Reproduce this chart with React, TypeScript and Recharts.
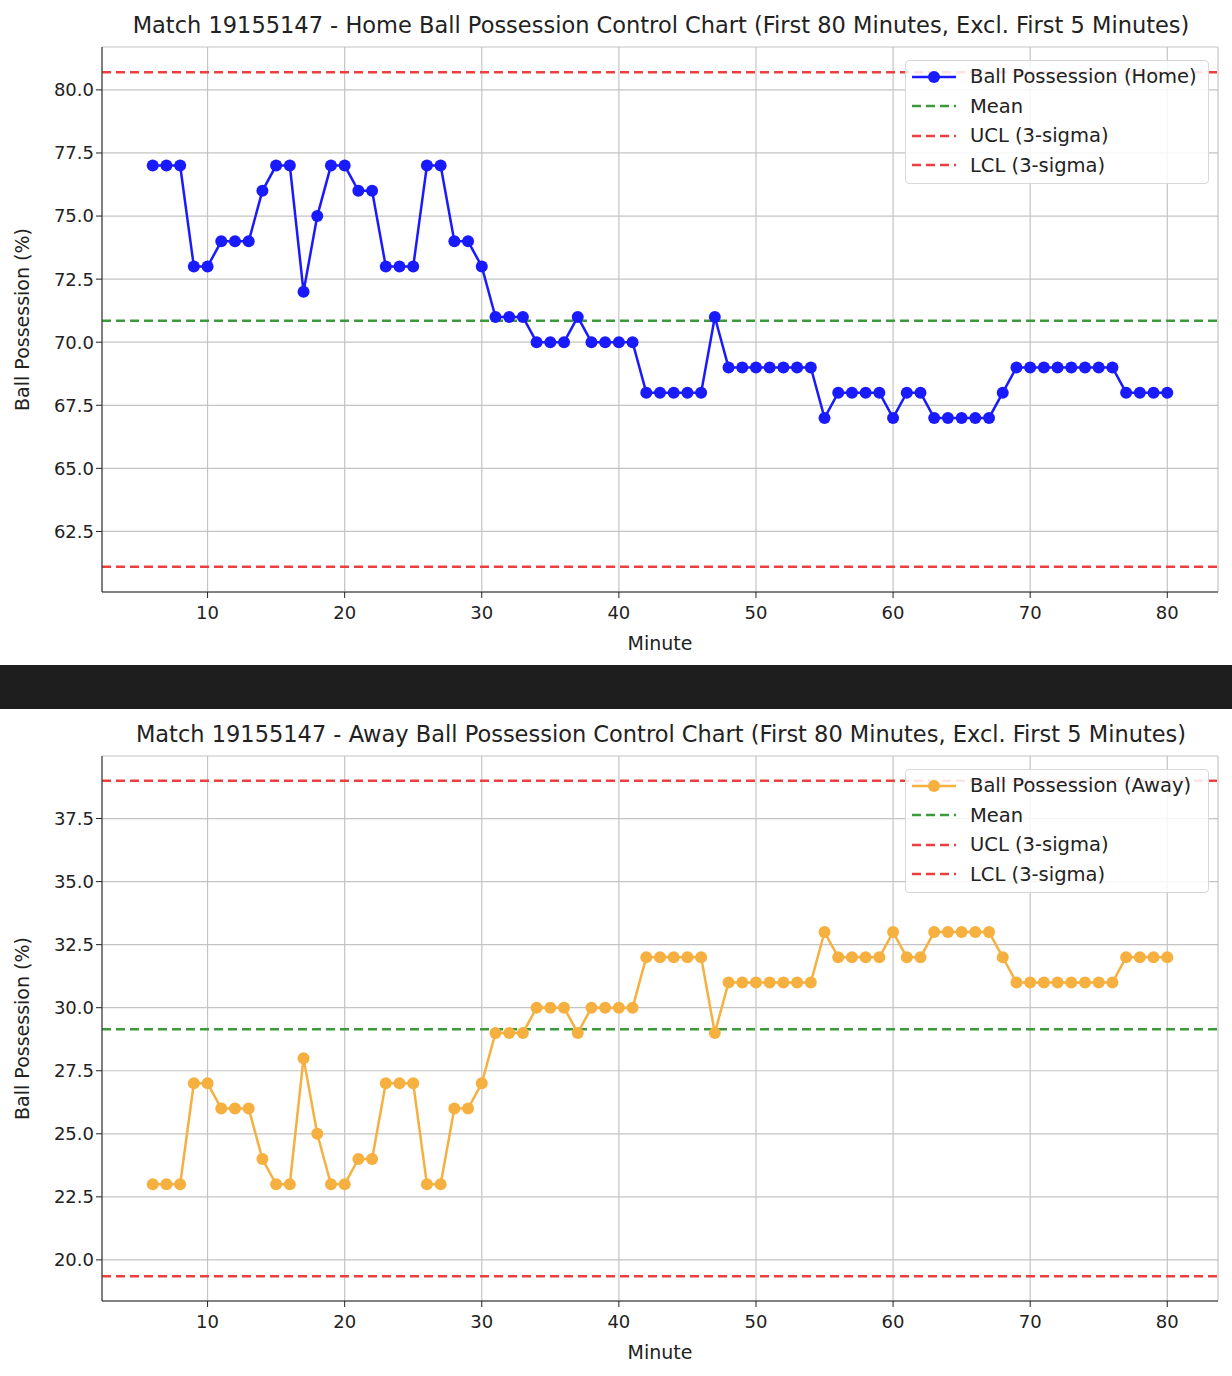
import * as React from "react";
import {
  CartesianGrid,
  Line,
  LineChart,
  ReferenceLine,
  XAxis,
  YAxis,
} from "recharts";

const MINUTES = [
  6, 7, 8, 9, 10, 11, 12, 13, 14, 15, 16, 17, 18, 19, 20, 21, 22, 23, 24, 25,
  26, 27, 28, 29, 30, 31, 32, 33, 34, 35, 36, 37, 38, 39, 40, 41, 42, 43, 44,
  45, 46, 47, 48, 49, 50, 51, 52, 53, 54, 55, 56, 57, 58, 59, 60, 61, 62, 63,
  64, 65, 66, 67, 68, 69, 70, 71, 72, 73, 74, 75, 76, 77, 78, 79, 80,
];

const HOME = [
  77, 77, 77, 73, 73, 74, 74, 74, 76, 77, 77, 72, 75, 77, 77, 76, 76, 73, 73,
  73, 77, 77, 74, 74, 73, 71, 71, 71, 70, 70, 70, 71, 70, 70, 70, 70, 68, 68,
  68, 68, 68, 71, 69, 69, 69, 69, 69, 69, 69, 67, 68, 68, 68, 68, 67, 68, 68,
  67, 67, 67, 67, 67, 68, 69, 69, 69, 69, 69, 69, 69, 69, 68, 68, 68, 68,
];

const AWAY = [
  23, 23, 23, 27, 27, 26, 26, 26, 24, 23, 23, 28, 25, 23, 23, 24, 24, 27, 27,
  27, 23, 23, 26, 26, 27, 29, 29, 29, 30, 30, 30, 29, 30, 30, 30, 30, 32, 32,
  32, 32, 32, 29, 31, 31, 31, 31, 31, 31, 31, 33, 32, 32, 32, 32, 33, 32, 32,
  33, 33, 33, 33, 33, 32, 31, 31, 31, 31, 31, 31, 31, 31, 32, 32, 32, 32,
];

const X_TICKS = [10, 20, 30, 40, 50, 60, 70, 80];
const HOME_TICKS = [62.5, 65, 67.5, 70, 72.5, 75, 77.5, 80];
const AWAY_TICKS = [20, 22.5, 25, 27.5, 30, 32.5, 35, 37.5];

const HOME_LIMITS = { mean: 70.85, ucl: 80.7, lcl: 61.1 };
const AWAY_LIMITS = { mean: 29.15, ucl: 39.0, lcl: 19.35 };

const FONT = "DejaVu Sans, sans-serif";
const RED = "#ec4040";
const GREEN = "#3c9a3c";

function ControlChart({
  title,
  values,
  name,
  color,
  ticks,
  domain,
  limits,
}: {
  title: string;
  values: number[];
  name: string;
  color: string;
  ticks: number[];
  domain: [number, number];
  limits: { mean: number; ucl: number; lcl: number };
}) {
  const rows = MINUTES.map((m, i) => ({ minute: m, v: values[i] }));
  const legend = [
    { label: name, color, dot: true },
    { label: "Mean", color: GREEN },
    { label: "UCL (3-sigma)", color: RED },
    { label: "LCL (3-sigma)", color: RED },
  ];
  return (
    <div style={{ position: "relative", width: 1232, height: 665, background: "#fff" }}>
      <div
        style={{
          position: "absolute",
          top: 12,
          left: 96,
          width: 1130,
          textAlign: "center",
          fontSize: 22.5,
          fontFamily: FONT,
          color: "#222",
          whiteSpace: "nowrap",
        }}
      >
        {title}
      </div>
      <LineChart
        width={1232}
        height={665}
        data={rows}
        margin={{ top: 47, right: 14, left: 42, bottom: 43 }}
        style={{ fontFamily: FONT }}
      >
        <CartesianGrid stroke="#c4c4c4" strokeWidth={1.2} />
        <XAxis
          dataKey="minute"
          type="number"
          domain={[2.3, 83.7]}
          ticks={X_TICKS}
          allowDataOverflow
          height={30}
          tickMargin={8}
          stroke="#222"
          tick={{ fontSize: 18, fill: "#222" }}
          label={{ value: "Minute", position: "insideBottom", offset: -28, fontSize: 19, fill: "#222" }}
        />
        <YAxis
          type="number"
          domain={domain}
          ticks={ticks}
          allowDataOverflow
          width={60}
          stroke="#222"
          tickFormatter={(v) => Number(v).toFixed(1)}
          tick={{ fontSize: 18, fill: "#222" }}
          label={{
            value: "Ball Possession (%)",
            angle: -90,
            position: "insideLeft",
            offset: -20,
            fontSize: 19,
            fill: "#222",
            style: { textAnchor: "middle" },
          }}
        />
        <ReferenceLine y={limits.mean} stroke={GREEN} strokeWidth={2.5} strokeDasharray="9 5" />
        <ReferenceLine y={limits.ucl} stroke={RED} strokeWidth={2.5} strokeDasharray="9 5" />
        <ReferenceLine y={limits.lcl} stroke={RED} strokeWidth={2.5} strokeDasharray="9 5" />
        <Line
          dataKey="v"
          stroke={color}
          strokeWidth={2.5}
          dot={{ r: 6, fill: color, stroke: color, strokeWidth: 0 }}
          isAnimationActive={false}
        />
      </LineChart>
      <div
        style={{
          position: "absolute",
          left: 905,
          top: 60,
          width: 304,
          height: 124,
          border: "1px solid #d8d8d8",
          borderRadius: 4,
          background: "rgba(255,255,255,0.85)",
          fontFamily: FONT,
          fontSize: 19.5,
          color: "#222",
          boxSizing: "border-box",
          paddingTop: 1,
        }}
      >
        {legend.map((e) => (
          <div key={e.label} style={{ display: "flex", alignItems: "center", height: 29.5 }}>
            <svg width={62} height={20} style={{ marginLeft: 2 }}>
              <line
                x1={4}
                x2={48}
                y1={10}
                y2={10}
                stroke={e.color}
                strokeWidth={2.5}
                strokeDasharray={e.dot ? undefined : "9 5"}
              />
              {e.dot && <circle cx={26} cy={10} r={6} fill={e.color} />}
            </svg>
            <span>{e.label}</span>
          </div>
        ))}
      </div>
    </div>
  );
}

export default function App() {
  return (
    <div style={{ position: "absolute", top: 0, left: 0, width: 1232, height: 1376, background: "#fff" }}>
      <ControlChart
        title="Match 19155147 - Home Ball Possession Control Chart (First 80 Minutes, Excl. First 5 Minutes)"
        values={HOME}
        name="Ball Possession (Home)"
        color="#1a1aff"
        ticks={HOME_TICKS}
        domain={[60.1, 81.7]}
        limits={HOME_LIMITS}
      />
      <div style={{ height: 44, background: "#1e1e1e" }} />
      <ControlChart
        title="Match 19155147 - Away Ball Possession Control Chart (First 80 Minutes, Excl. First 5 Minutes)"
        values={AWAY}
        name="Ball Possession (Away)"
        color="#f6b040"
        ticks={AWAY_TICKS}
        domain={[18.37, 39.98]}
        limits={AWAY_LIMITS}
      />
    </div>
  );
}
